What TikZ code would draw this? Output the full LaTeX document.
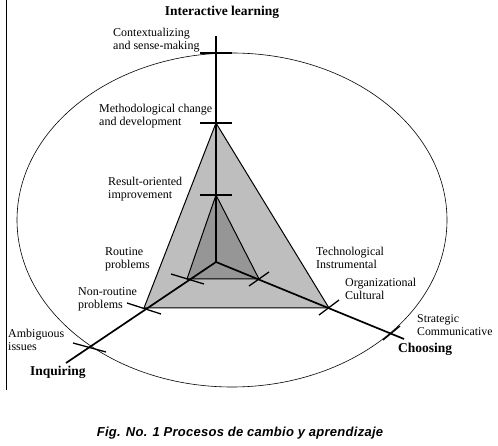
\documentclass[tikz,border=0pt]{standalone}
\usepackage{fontspec}
\setmainfont{Liberation Serif}
\newfontfamily\capfont[LetterSpace=2]{Liberation Sans}
\usepackage{tikz}
\usetikzlibrary{positioning}
\usepackage{xcolor}
\definecolor{outergray}{RGB}{190,190,190}
\definecolor{innergray}{RGB}{150,150,150}

\begin{document}
\begin{tikzpicture}[x=1pt,y=-1pt,
    every node/.style={font=\fontsize{12}{13}\selectfont},
    lbl/.style={align=left,anchor=west,inner sep=0pt},
    pole/.style={font=\fontsize{13.5}{13}\selectfont\bfseries,inner sep=0pt},
    axisline/.style={line width=1.7pt},
    tickline/.style={line width=1.3pt},
    triedge/.style={line width=1pt,line join=miter}]
        \useasboundingbox (0,0) rectangle (498,446);
        % frame line and ellipse
        \draw[line width=0.9pt] (6,0) -- (6,390);
        \draw[line width=0.6pt] (232,220) ellipse [x radius=215,y radius=167];
        % centre and axis ends
        \coordinate (o) at (216,262);
        \coordinate (topend) at (216,36);
        \coordinate (leftend) at (66,363);
        \coordinate (rightend) at (404,339);
        % triangles
        \coordinate (ot) at (216,123);
        \coordinate (ol) at (144,308);
        \coordinate (or) at (329,308);
        \coordinate (it) at (216,195);
        \coordinate (il) at (187,279);
        \coordinate (ir) at (259,279);
        \filldraw[triedge,fill=outergray] (ot) -- (ol) -- (or) -- cycle;
        \filldraw[triedge,fill=innergray] (it) -- (il) -- (ir) -- cycle;
        % axes
        \draw[axisline] (o) -- (topend);
        \draw[axisline] (o) -- (leftend);
        \draw[axisline] (o) -- (rightend);
        % ticks on the vertical axis
        \coordinate (t1) at (216,53);
        \draw[tickline] (t1) ++(-16,0) -- ++(32,0);
        \draw[tickline] (ot) ++(-16,0) -- ++(32,0);
        \draw[tickline] (it) ++(-16,0) -- ++(32,0);
        % ticks on the left axis
        \coordinate (t2) at (89,347);
        \draw[tickline] (il) ++(-16,-5) -- ++(33,10);
        \draw[tickline] (ol) ++(-17,-5) -- ++(34,11);
        \draw[tickline] (t2) ++(-16,-4) -- ++(33,9);
        % ticks on the right axis
        \coordinate (t3) at (392,333);
        \draw[tickline] (ir) ++(-10,7) -- ++(20,-14);
        \draw[tickline] (or) ++(-10,7) -- ++(20,-15);
        \draw[tickline] (t3) ++(-9,7) -- ++(17,-14);
        % labels
        \node[pole] (il-title) at (222,12) {Interactive learning};
        \node[lbl] (ctx) at (113,40) {Contextualizing\\and sense-making};
        \node[lbl] (meth) at (99,116) {Methodological change\\and development};
        \node[lbl] (res) at (108,189) {Result-oriented\\improvement};
        \node[lbl] (rout) at (105,259) {Routine\\problems};
        \node[lbl] (nonr) at (78,299) {Non-routine\\problems};
        \node[lbl] (amb) at (8,340) {Ambiguous\\issues};
        \node[pole,anchor=west] (inq) at (30,372) {Inquiring};
        \node[lbl] (tech) at (316,258) {Technological\\Instrumental};
        \node[lbl] (org) at (345,289) {Organizational\\Cultural};
        \node[lbl,font=\fontsize{11.8}{13}\selectfont] (strat) at (417,325) {Strategic\\Communicative};
        \node[pole,anchor=west] (choo) at (398,349) {Choosing};
        \node[font=\capfont\bfseries\itshape\fontsize{13}{14}\selectfont] (cap) at (240,433)
          {Fig. No. 1 Procesos de cambio y aprendizaje};
      \end{tikzpicture}
\end{document}
